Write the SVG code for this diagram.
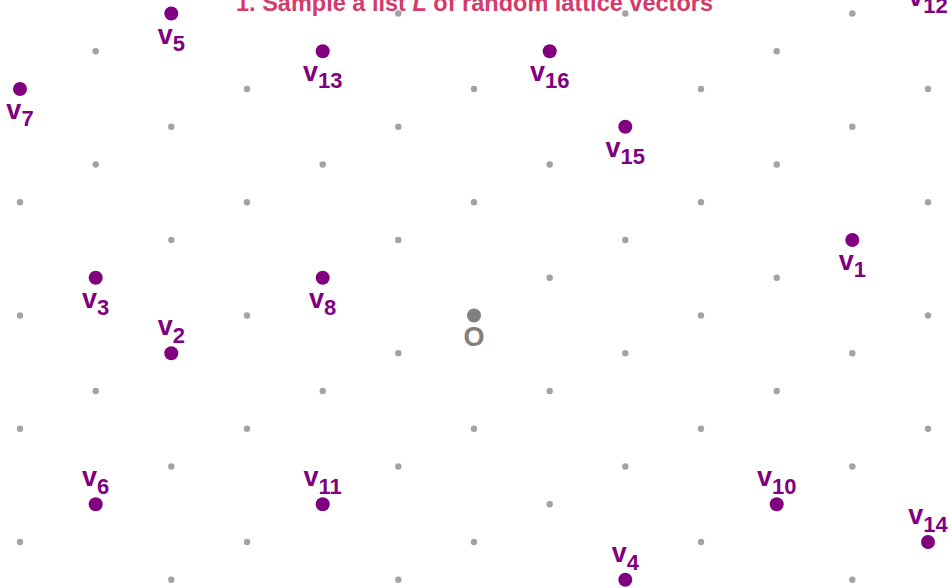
<svg xmlns="http://www.w3.org/2000/svg" width="951" height="588" viewBox="0 0 951 588">
<style>
.g{fill:#a3a3a3}
.p{fill:#800080}
.lb{font-family:"Liberation Sans","DejaVu Sans",sans-serif;font-weight:bold;fill:#800080;font-size:27px;text-anchor:middle}
.sb{font-size:22px}
.title{font-family:"Liberation Sans","DejaVu Sans",sans-serif;font-weight:bold;fill:#d43a6a;font-size:24px;text-anchor:middle}
</style>
<rect width="951" height="588" fill="#ffffff"/>
<text class="title" x="474.5" y="11" textLength="477" lengthAdjust="spacingAndGlyphs">1.  Sample a list <tspan font-style="italic">L</tspan> of random lattice vectors</text>
<g id="lattice">
<circle class="g" cx="171.3" cy="13.5" r="3.2"/><circle class="g" cx="398.3" cy="13.5" r="3.2"/><circle class="g" cx="625.3" cy="13.5" r="3.2"/><circle class="g" cx="852.3" cy="13.5" r="3.2"/>
<circle class="g" cx="95.7" cy="51.25" r="3.2"/><circle class="g" cx="322.7" cy="51.25" r="3.2"/><circle class="g" cx="549.7" cy="51.25" r="3.2"/><circle class="g" cx="776.7" cy="51.25" r="3.2"/>
<circle class="g" cx="20" cy="89" r="3.2"/><circle class="g" cx="247" cy="89" r="3.2"/><circle class="g" cx="474" cy="89" r="3.2"/><circle class="g" cx="701" cy="89" r="3.2"/><circle class="g" cx="928" cy="89" r="3.2"/>
<circle class="g" cx="171.3" cy="126.75" r="3.2"/><circle class="g" cx="398.3" cy="126.75" r="3.2"/><circle class="g" cx="625.3" cy="126.75" r="3.2"/><circle class="g" cx="852.3" cy="126.75" r="3.2"/>
<circle class="g" cx="95.7" cy="164.5" r="3.2"/><circle class="g" cx="322.7" cy="164.5" r="3.2"/><circle class="g" cx="549.7" cy="164.5" r="3.2"/><circle class="g" cx="776.7" cy="164.5" r="3.2"/>
<circle class="g" cx="20" cy="202.25" r="3.2"/><circle class="g" cx="247" cy="202.25" r="3.2"/><circle class="g" cx="474" cy="202.25" r="3.2"/><circle class="g" cx="701" cy="202.25" r="3.2"/><circle class="g" cx="928" cy="202.25" r="3.2"/>
<circle class="g" cx="171.3" cy="240" r="3.2"/><circle class="g" cx="398.3" cy="240" r="3.2"/><circle class="g" cx="625.3" cy="240" r="3.2"/><circle class="g" cx="852.3" cy="240" r="3.2"/>
<circle class="g" cx="95.7" cy="277.75" r="3.2"/><circle class="g" cx="322.7" cy="277.75" r="3.2"/><circle class="g" cx="549.7" cy="277.75" r="3.2"/><circle class="g" cx="776.7" cy="277.75" r="3.2"/>
<circle class="g" cx="20" cy="315.5" r="3.2"/><circle class="g" cx="247" cy="315.5" r="3.2"/><circle class="g" cx="701" cy="315.5" r="3.2"/><circle class="g" cx="928" cy="315.5" r="3.2"/>
<circle class="g" cx="171.3" cy="353.25" r="3.2"/><circle class="g" cx="398.3" cy="353.25" r="3.2"/><circle class="g" cx="625.3" cy="353.25" r="3.2"/><circle class="g" cx="852.3" cy="353.25" r="3.2"/>
<circle class="g" cx="95.7" cy="391" r="3.2"/><circle class="g" cx="322.7" cy="391" r="3.2"/><circle class="g" cx="549.7" cy="391" r="3.2"/><circle class="g" cx="776.7" cy="391" r="3.2"/>
<circle class="g" cx="20" cy="428.75" r="3.2"/><circle class="g" cx="247" cy="428.75" r="3.2"/><circle class="g" cx="474" cy="428.75" r="3.2"/><circle class="g" cx="701" cy="428.75" r="3.2"/><circle class="g" cx="928" cy="428.75" r="3.2"/>
<circle class="g" cx="171.3" cy="466.5" r="3.2"/><circle class="g" cx="398.3" cy="466.5" r="3.2"/><circle class="g" cx="625.3" cy="466.5" r="3.2"/><circle class="g" cx="852.3" cy="466.5" r="3.2"/>
<circle class="g" cx="95.7" cy="504.25" r="3.2"/><circle class="g" cx="322.7" cy="504.25" r="3.2"/><circle class="g" cx="549.7" cy="504.25" r="3.2"/><circle class="g" cx="776.7" cy="504.25" r="3.2"/>
<circle class="g" cx="20" cy="542" r="3.2"/><circle class="g" cx="247" cy="542" r="3.2"/><circle class="g" cx="474" cy="542" r="3.2"/><circle class="g" cx="701" cy="542" r="3.2"/><circle class="g" cx="928" cy="542" r="3.2"/>
<circle class="g" cx="171.3" cy="579.75" r="3.2"/><circle class="g" cx="398.3" cy="579.75" r="3.2"/><circle class="g" cx="625.3" cy="579.75" r="3.2"/><circle class="g" cx="852.3" cy="579.75" r="3.2"/>
</g>
<g id="origin">
<circle cx="474" cy="315.5" r="7" fill="#808080"/>
<text x="474" y="346" font-family="'Liberation Sans','DejaVu Sans',sans-serif" font-weight="bold" font-size="27" fill="#808080" text-anchor="middle">O</text>
</g>
<g id="v1"><circle class="p" cx="852.3" cy="240" r="7"/><text class="lb" x="852.3" y="270">v<tspan class="sb" dy="7">1</tspan></text></g>
<g id="v2"><circle class="p" cx="171.3" cy="353.25" r="7"/><text class="lb" x="171.3" y="335">v<tspan class="sb" dy="8">2</tspan></text></g>
<g id="v3"><circle class="p" cx="95.7" cy="277.75" r="7"/><text class="lb" x="95.7" y="307.75">v<tspan class="sb" dy="7">3</tspan></text></g>
<g id="v4"><circle class="p" cx="625.3" cy="579.75" r="7"/><text class="lb" x="625.3" y="561.5">v<tspan class="sb" dy="8">4</tspan></text></g>
<g id="v5"><circle class="p" cx="171.3" cy="13.5" r="7"/><text class="lb" x="171.3" y="43.5">v<tspan class="sb" dy="7">5</tspan></text></g>
<g id="v6"><circle class="p" cx="95.7" cy="504.25" r="7"/><text class="lb" x="95.7" y="486">v<tspan class="sb" dy="8">6</tspan></text></g>
<g id="v7"><circle class="p" cx="20" cy="89" r="7"/><text class="lb" x="20" y="119">v<tspan class="sb" dy="7">7</tspan></text></g>
<g id="v8"><circle class="p" cx="322.7" cy="277.75" r="7"/><text class="lb" x="322.7" y="307.75">v<tspan class="sb" dy="7">8</tspan></text></g>
<g id="v10"><circle class="p" cx="776.7" cy="504.25" r="7"/><text class="lb" x="776.7" y="486">v<tspan class="sb" dy="8">10</tspan></text></g>
<g id="v11"><circle class="p" cx="322.7" cy="504.25" r="7"/><text class="lb" x="322.7" y="486">v<tspan class="sb" dy="8">11</tspan></text></g>
<g id="v12"><circle class="p" cx="928" cy="-24.25" r="7"/><text class="lb" x="928" y="5.75">v<tspan class="sb" dy="7">12</tspan></text></g>
<g id="v13"><circle class="p" cx="322.7" cy="51.25" r="7"/><text class="lb" x="322.7" y="81.25">v<tspan class="sb" dy="7">13</tspan></text></g>
<g id="v14"><circle class="p" cx="928" cy="542" r="7"/><text class="lb" x="928" y="523.75">v<tspan class="sb" dy="8">14</tspan></text></g>
<g id="v15"><circle class="p" cx="625.3" cy="126.75" r="7"/><text class="lb" x="625.3" y="156.75">v<tspan class="sb" dy="7">15</tspan></text></g>
<g id="v16"><circle class="p" cx="549.7" cy="51.25" r="7"/><text class="lb" x="549.7" y="81.25">v<tspan class="sb" dy="7">16</tspan></text></g>
</svg>
